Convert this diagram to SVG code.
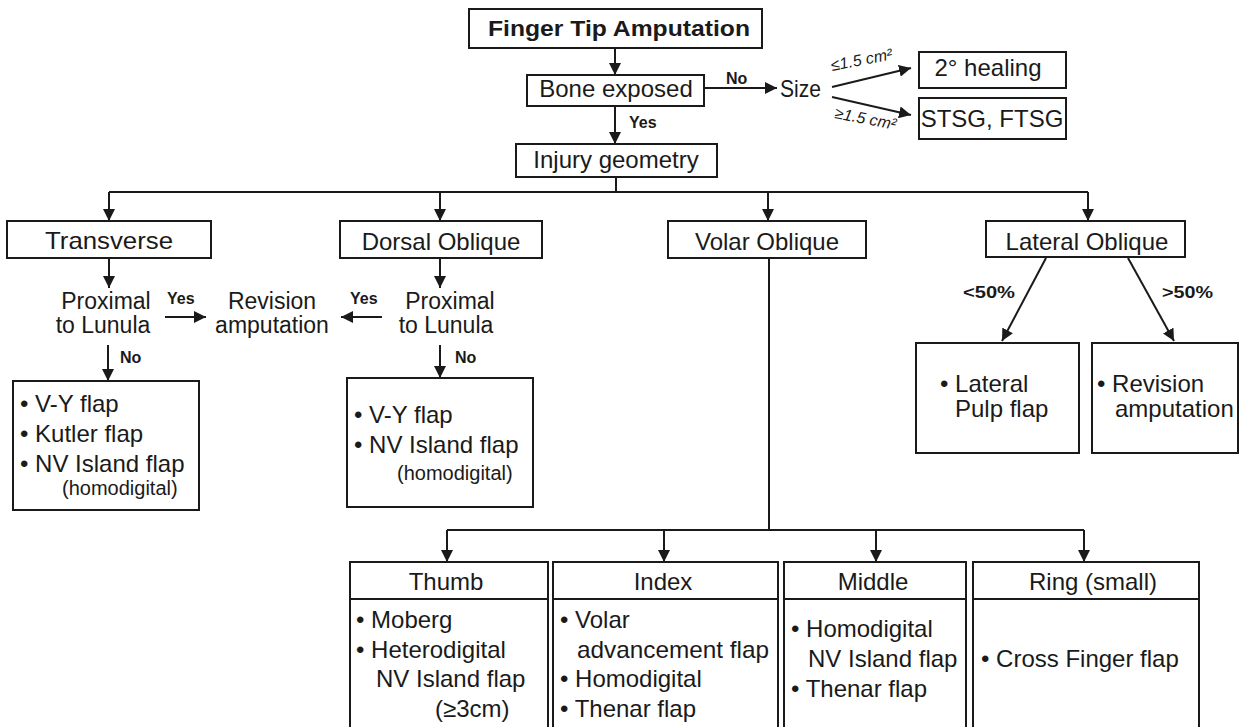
<svg xmlns="http://www.w3.org/2000/svg" width="1241" height="727" viewBox="0 0 1241 727">
<style>
  .box{fill:#fff;stroke:#1a1a1a;stroke-width:2}
  .ln{fill:none;stroke:#1a1a1a;stroke-width:2}
  .arr{fill:none;stroke:#1a1a1a;stroke-width:2;marker-end:url(#ah)}
  text{font-family:"Liberation Sans",Arial,sans-serif;fill:#1a1a1a}
  .t{font-size:24px}
  .t2{font-size:23px}
  .c{text-anchor:middle}
  .s{font-size:20px}
  .b{font-weight:bold;font-size:16px}
  .sz{font-size:16px;font-style:italic}
</style>
<defs>
  <marker id="ah" markerUnits="userSpaceOnUse" markerWidth="12" markerHeight="12" refX="12" refY="6" orient="auto">
    <path d="M0,0 L12,6 L0,12 z" fill="#1a1a1a"/>
  </marker>
</defs>
<rect width="1241" height="727" fill="#fff"/>

<g id="connectors">
  <line class="arr" x1="615" y1="48" x2="615" y2="75"/>
  <line class="arr" x1="704" y1="88" x2="777" y2="88"/>
  <line class="arr" x1="832" y1="87" x2="911" y2="68"/>
  <line class="arr" x1="832" y1="97" x2="911" y2="115"/>
  <line class="arr" x1="615" y1="106" x2="615" y2="144"/>
  <polyline class="ln" points="616,177 616,192"/>
  <line class="ln" x1="109" y1="192" x2="1088" y2="192"/>
  <line class="arr" x1="109" y1="192" x2="109" y2="221"/>
  <line class="arr" x1="440" y1="192" x2="440" y2="221"/>
  <line class="arr" x1="768" y1="192" x2="768" y2="221"/>
  <line class="arr" x1="1088" y1="192" x2="1088" y2="221"/>
  <line class="arr" x1="109" y1="258" x2="109" y2="288"/>
  <line class="arr" x1="440" y1="258" x2="440" y2="288"/>
  <line class="arr" x1="165" y1="317" x2="206" y2="317"/>
  <line class="arr" x1="382" y1="317" x2="341" y2="317"/>
  <line class="arr" x1="108" y1="345" x2="108" y2="381"/>
  <line class="arr" x1="440" y1="345" x2="440" y2="378"/>
  <line class="arr" x1="1046" y1="258" x2="1002" y2="341"/>
  <line class="arr" x1="1128" y1="258" x2="1174" y2="341"/>
  <line class="ln" x1="769" y1="258" x2="769" y2="530"/>
  <line class="ln" x1="447" y1="530" x2="1084" y2="530"/>
  <line class="arr" x1="447" y1="530" x2="447" y2="562"/>
  <line class="arr" x1="664" y1="530" x2="664" y2="562"/>
  <line class="arr" x1="876" y1="530" x2="876" y2="562"/>
  <line class="arr" x1="1084" y1="530" x2="1084" y2="562"/>
  <text class="b" x="726" y="84">No</text>
  <text class="b" x="629" y="128">Yes</text>
  <text class="b" x="167" y="304">Yes</text>
  <text class="b" x="350" y="304">Yes</text>
  <text class="b" x="120" y="363">No</text>
  <text class="b" x="455" y="363">No</text>
  <text class="b" x="963" y="298" textLength="52" lengthAdjust="spacingAndGlyphs">&lt;50%</text>
  <text class="b" x="1162" y="298" textLength="51" lengthAdjust="spacingAndGlyphs">&gt;50%</text>
  <text class="sz" transform="translate(832,71) rotate(-11)">≤1.5 cm²</text>
  <text class="sz" transform="translate(834,118) rotate(11)">≥1.5 cm²</text>
</g>

<g id="n-finger">
  <rect class="box" x="469" y="9" width="293" height="39"/>
  <text class="c" x="619" y="36" font-size="22" font-weight="bold" textLength="262" lengthAdjust="spacingAndGlyphs">Finger Tip Amputation</text>
</g>
<g id="n-bone">
  <rect class="box" x="527" y="75" width="177" height="31"/>
  <text class="t c" x="616" y="97">Bone exposed</text>
</g>
<g id="n-size">
  <text class="t" x="780" y="97" textLength="41" lengthAdjust="spacingAndGlyphs">Size</text>
</g>
<g id="n-heal">
  <rect class="box" x="919" y="52" width="147" height="36"/>
  <text class="t c" x="988" y="76">2° healing</text>
</g>
<g id="n-stsg">
  <rect class="box" x="919" y="98" width="147" height="41"/>
  <text class="t c" x="992" y="127">STSG, FTSG</text>
</g>
<g id="n-injury">
  <rect class="box" x="516" y="144" width="201" height="33"/>
  <text class="t c" x="616" y="168">Injury geometry</text>
</g>
<g id="n-transverse">
  <rect class="box" x="7" y="221" width="204" height="37"/>
  <text class="t c" x="109" y="249" textLength="128" lengthAdjust="spacingAndGlyphs">Transverse</text>
</g>
<g id="n-dorsal">
  <rect class="box" x="340" y="221" width="202" height="37"/>
  <text class="t c" x="441" y="250">Dorsal Oblique</text>
</g>
<g id="n-volar">
  <rect class="box" x="668" y="221" width="198" height="37"/>
  <text class="t c" x="767" y="250">Volar Oblique</text>
</g>
<g id="n-lateral">
  <rect class="box" x="986" y="221" width="199" height="36"/>
  <text class="t c" x="1087" y="250">Lateral Oblique</text>
</g>
<g id="n-prox1">
  <text class="t2 c" x="106" y="309">Proximal</text>
  <text class="t2 c" x="103" y="333">to Lunula</text>
</g>
<g id="n-revision">
  <text class="t2 c" x="272" y="309">Revision</text>
  <text class="t2 c" x="272" y="333">amputation</text>
</g>
<g id="n-prox2">
  <text class="t2 c" x="450" y="309">Proximal</text>
  <text class="t2 c" x="446" y="333">to Lunula</text>
</g>
<g id="n-trans-opts">
  <rect class="box" x="13" y="381" width="186" height="129"/>
  <text class="t" x="20" y="412">• V-Y flap</text>
  <text class="t" x="20" y="442">• Kutler flap</text>
  <text class="t" x="20" y="472">• NV Island flap</text>
  <text class="s" x="62" y="495">(homodigital)</text>
</g>
<g id="n-dorsal-opts">
  <rect class="box" x="347" y="378" width="186" height="129"/>
  <text class="t" x="354" y="423">• V-Y flap</text>
  <text class="t" x="354" y="453">• NV Island flap</text>
  <text class="s" x="397" y="480">(homodigital)</text>
</g>
<g id="n-lat-pulp">
  <rect class="box" x="916" y="343" width="163" height="110"/>
  <text class="t" x="940" y="392">• Lateral</text>
  <text class="t" x="955" y="417">Pulp flap</text>
</g>
<g id="n-lat-rev">
  <rect class="box" x="1092" y="343" width="146" height="110"/>
  <text class="t" x="1097" y="392">• Revision</text>
  <text class="t" x="1115" y="417">amputation</text>
</g>
<g id="n-thumb">
  <rect class="box" x="350" y="562" width="198" height="180"/>
  <line class="ln" x1="350" y1="599" x2="548" y2="599"/>
  <text class="t c" x="446" y="590">Thumb</text>
  <text class="t" x="356" y="628">• Moberg</text>
  <text class="t" x="356" y="658">• Heterodigital</text>
  <text class="t" x="376" y="687">NV Island flap</text>
  <text class="t" x="435" y="717">(≥3cm)</text>
</g>
<g id="n-index">
  <rect class="box" x="553" y="562" width="225" height="180"/>
  <line class="ln" x1="553" y1="599" x2="778" y2="599"/>
  <text class="t c" x="663" y="590">Index</text>
  <text class="t" x="560" y="628">• Volar</text>
  <text class="t" x="577" y="658" textLength="192" lengthAdjust="spacingAndGlyphs">advancement flap</text>
  <text class="t" x="560" y="687">• Homodigital</text>
  <text class="t" x="560" y="717">• Thenar flap</text>
</g>
<g id="n-middle">
  <rect class="box" x="784" y="562" width="182" height="180"/>
  <line class="ln" x1="784" y1="599" x2="966" y2="599"/>
  <text class="t c" x="873" y="590">Middle</text>
  <text class="t" x="791" y="637">• Homodigital</text>
  <text class="t" x="808" y="667">NV Island flap</text>
  <text class="t" x="791" y="697">• Thenar flap</text>
</g>
<g id="n-ring">
  <rect class="box" x="973" y="562" width="226" height="180"/>
  <line class="ln" x1="973" y1="599" x2="1199" y2="599"/>
  <text class="t c" x="1093" y="590">Ring (small)</text>
  <text class="t" x="981" y="667">• Cross Finger flap</text>
</g>
</svg>
